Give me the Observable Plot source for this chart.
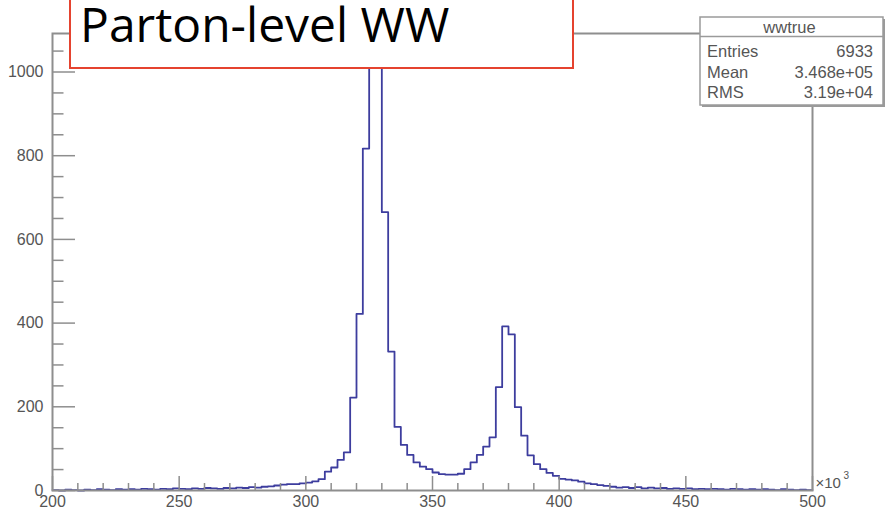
<!DOCTYPE html>
<html>
<head>
<meta charset="utf-8">
<script src="https://cdn.jsdelivr.net/npm/d3@7"></script>
<script src="https://cdn.jsdelivr.net/npm/@observablehq/plot@0.6"></script>
<style>
  html, body { margin: 0; padding: 0; background: #fff; }
  #wrap { position: relative; width: 888px; height: 510px; overflow: hidden; }
  #wrap svg.overlay { position: absolute; left: 0; top: 0; }
</style>
</head>
<body>
<div id="wrap"></div>
<script>
// Histogram "wwtrue": WW invariant mass (×10³), 120 bins from 200 to 500
const histName = "wwtrue";
const titleText = "Parton-level WW";
const xRange = [200, 500];
const counts = [
  1, 0, 2, 1, 0, 2, 1, 3, 2, 1,
  3, 2, 3, 2, 4, 3, 2, 4, 3, 5,
  4, 3, 5, 4, 6, 5, 4, 6, 5, 7,
  6, 8, 7, 9, 10, 12, 14, 15, 15, 17,
  19, 22, 27, 45, 55, 73, 91, 222, 422, 817,
  1040, 1028, 665, 332, 152, 109, 85, 67, 57, 51,
  43, 39, 38, 38, 40, 51, 67, 85, 105, 127,
  247, 392, 373, 199, 131, 84, 63, 51, 42, 35,
  28, 26, 24, 21, 17, 15, 13, 11, 9, 7,
  8, 6, 8, 5, 7, 5, 6, 4, 5, 4,
  5, 3, 4, 3, 4, 3, 2, 4, 3, 2,
  3, 2, 3, 2, 1, 3, 2, 1, 2, 1
];
const xTicks = [200, 250, 300, 350, 400, 450, 500];
const yTicks = [0, 200, 400, 600, 800, 1000];
const yMax = 1092;
const statLabels = ["Entries", "Mean", "RMS"];
const statValues = ["6933", "3.468e+05", "3.19e+04"];

// layout
const W = 888, H = 510;
const mL = 52, mR = 76, mT = 33, mB = 20;
const frameW = W - mL - mR, frameH = H - mT - mB;

// outline of the histogram as a step line through the bin lower edges
const binW = (xRange[1] - xRange[0]) / counts.length;
const steps = counts.map((c, i) => ({x: xRange[0] + i * binW, y: c}));
steps.push({x: xRange[1], y: counts[counts.length - 1]});

const xMinor = d3.range(xRange[0], xRange[1] + 1, 10).filter(v => v % 50 !== 0);
const yMinor = d3.range(0, yMax, 50).filter(v => v % 200 !== 0);

const axisColor = "#8e8e8e";
const labelColor = "#555";
const font = "'Liberation Sans', Arial, Helvetica, sans-serif";

const chart = Plot.plot({
  width: W, height: H,
  marginLeft: mL, marginRight: mR, marginTop: mT, marginBottom: mB,
  style: {fontFamily: font, fontSize: "16px", background: "#fff", overflow: "visible"},
  x: {domain: xRange},
  y: {domain: [0, yMax]},
  marks: [
    Plot.line(steps, {x: "x", y: "y", curve: "step-after", stroke: "#3d3d9e", strokeWidth: 1.8}),
    Plot.tickX(xTicks, {x: d => d, insetTop: frameH - 14, stroke: axisColor, strokeWidth: 1.5}),
    Plot.tickX(xMinor, {x: d => d, insetTop: frameH - 7, stroke: axisColor, strokeWidth: 1.5}),
    Plot.tickY(yTicks, {y: d => d, insetRight: frameW - 23, stroke: axisColor, strokeWidth: 1.5}),
    Plot.tickY(yMinor, {y: d => d, insetRight: frameW - 11.5, stroke: axisColor, strokeWidth: 1.5}),
    Plot.frame({stroke: axisColor, strokeWidth: 2}),
    Plot.axisX(xTicks, {tickSize: 0, tickPadding: 5, color: labelColor, label: null, tickFormat: d => String(d)}),
    Plot.axisY(yTicks, {tickSize: 0, tickPadding: 9, color: labelColor, label: null, tickFormat: d => String(d)}),
    Plot.text(["×10"], {frameAnchor: "bottom-right", dx: 3, dy: -3, textAnchor: "start", fill: labelColor, fontSize: 15}),
    Plot.text(["3"], {frameAnchor: "bottom-right", dx: 31, dy: -12, textAnchor: "start", fill: labelColor, fontSize: 10})
  ]
});
document.getElementById("wrap").appendChild(chart);

// title pad and statistics box drawn on top of the frame
const ov = d3.select("#wrap").append("svg")
  .attr("class", "overlay").attr("width", W).attr("height", H);

ov.append("rect")
  .attr("x", 70).attr("y", -4).attr("width", 503).attr("height", 72)
  .attr("fill", "#fff").attr("stroke", "#e5432f").attr("stroke-width", 2);
ov.append("text")
  .attr("x", 80).attr("y", 42)
  .attr("font-family", "'Open Sans', 'Noto Sans', sans-serif")
  .attr("font-size", 48).attr("fill", "#000")
  .text(titleText);

const sx = 700, sy = 17, sw = 183, sh = 88;
const statFont = 16.5;
ov.append("rect")
  .attr("x", sx + 2).attr("y", sy + 2).attr("width", sw).attr("height", sh)
  .attr("fill", "#9a9a9a");
ov.append("rect")
  .attr("x", sx).attr("y", sy).attr("width", sw).attr("height", sh)
  .attr("fill", "#fff").attr("stroke", "#9a9a9a").attr("stroke-width", 1.5);
ov.append("line")
  .attr("x1", sx).attr("x2", sx + sw).attr("y1", 36.5).attr("y2", 36.5)
  .attr("stroke", "#9a9a9a").attr("stroke-width", 1.5);
ov.append("text")
  .attr("x", sx + sw / 2 - 2).attr("y", 33)
  .attr("text-anchor", "middle").attr("font-family", font).attr("font-size", statFont)
  .attr("fill", labelColor).text(histName);
const rowY = [57, 78, 98];
statLabels.forEach((lab, i) => {
  ov.append("text")
    .attr("x", sx + 7).attr("y", rowY[i])
    .attr("font-family", font).attr("font-size", statFont).attr("fill", labelColor)
    .text(lab);
  ov.append("text")
    .attr("x", sx + sw - 10).attr("y", rowY[i]).attr("text-anchor", "end")
    .attr("font-family", font).attr("font-size", statFont).attr("fill", labelColor)
    .text(statValues[i]);
});
</script>
</body>
</html>
